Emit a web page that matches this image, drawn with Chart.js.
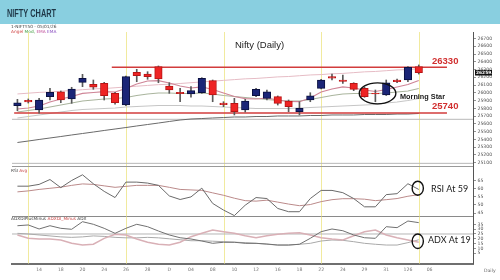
<!DOCTYPE html>
<html><head><meta charset="utf-8"><title>Nifty Chart</title>
<script src="https://cdn.jsdelivr.net/npm/chart.js@4.4.1/dist/chart.umd.min.js"></script>
<style>
html,body{margin:0;padding:0;background:#fff;}
#wrap{position:relative;width:500px;height:280px;overflow:hidden;background:#fff;}
#wrap canvas{position:absolute;left:0;top:0;}
</style></head>
<body><div id="wrap">
<canvas id="pricePane" width="500" height="280"></canvas>
<canvas id="rsiPane" width="500" height="280"></canvas>
<canvas id="adxPane" width="500" height="280"></canvas>
</div>
<script>
// ---------------- DATA ----------------
const dates = ['12 Nov','13 Nov','14 Nov','17 Nov','18 Nov','19 Nov','20 Nov','21 Nov','24 Nov','25 Nov','26 Nov','27 Nov','28 Nov','01 Dec','02 Dec','03 Dec','04 Dec','05 Dec','08 Dec','09 Dec','10 Dec','11 Dec','12 Dec','15 Dec','16 Dec','17 Dec','18 Dec','19 Dec','22 Dec','23 Dec','24 Dec','26 Dec','29 Dec','30 Dec','31 Dec','01 Jan','02 Jan','05 Jan'];
const open  = [25833,25903,25778,25950,26014,25920,26135,26110,26122,25993,25843,26264,26242,26337,26088,26006,25984,26001,26156,25868,25864,25778,25962,25929,25950,25894,25756,25907,26058,26208,26165,26122,26058,25993,25971,26165,26165,26337];
const high  = [25916,25920,25929,26058,26023,26071,26238,26165,26135,26006,26217,26303,26272,26346,26130,26058,26079,26195,26165,25885,25929,25916,26058,26036,25959,25907,25885,26001,26174,26242,26229,26130,26071,26036,26165,26178,26337,26359];
const low   = [25769,25868,25736,25907,25872,25864,26079,26045,25907,25852,25833,26143,26174,26130,25993,25885,25942,25993,25885,25821,25714,25752,25950,25907,25842,25756,25714,25885,26049,26165,26122,26027,25942,25885,25965,26130,26143,26242];
const close = [25872,25881,25907,26006,25907,26049,26187,26071,25962,25872,26208,26221,26208,26178,26036,25988,26027,26187,25972,25846,25756,25894,26045,26014,25864,25821,25800,25962,26165,26187,26148,26045,25950,25984,26130,26143,26329,26259];

const trendUpper = [25985,25995,26005,26010,26020,26030,26040,26050,26055,26065,26075,26085,26095,26105,26110,26120,26130,26140,26150,26160,26170,26180,26185,26195,26205,26210,26220,26230,26235,26245,26250,26260,26270,26275,26285,26295,26300,26310];
const emaFast = [25791,25804,25830,25881,25920,25952,25993,26004,26014,26010,26055,26113,26152,26156,26126,26088,26062,26075,26042,25997,25952,25926,25920,25933,25907,25888,25885,25933,26010,26049,26075,26062,26036,26017,26042,26075,26107,26159];
const emaMid  = [25752,25772,25791,25817,25843,25869,25894,25907,25920,25926,25939,25965,25984,25997,25997,25991,25991,25997,25984,25965,25952,25939,25926,25913,25901,25894,25894,25913,25939,25965,25984,25991,25991,25991,25997,26010,26023,26055];
const emaSlow = [25675,25694,25714,25733,25752,25772,25784,25791,25797,25804,25817,25823,25830,25836,25836,25836,25830,25830,25823,25817,25810,25804,25797,25797,25797,25797,25804,25810,25817,25823,25830,25836,25843,25849,25868,25881,25901,25926];
const emaLong = [25359,25378,25398,25417,25436,25456,25475,25494,25514,25533,25552,25572,25591,25610,25630,25649,25662,25668,25675,25681,25688,25688,25694,25694,25701,25701,25701,25707,25707,25714,25714,25714,25720,25720,25720,25726,25726,25733];

const levels     = [26330, 25740];      // marked resistance / support
const levelFrom  = [8.7, -0.3];         // candle index where each marked line starts
const levelTo    = [39.6, 39.6];
const grayLevels = [25658, 25090];

const rsi    = [61.5,61.5,62.6,65.6,60.6,65,68.5,63,58.3,54.5,64,64,63.4,62,55.5,53.3,54.9,60.3,50.9,46.8,43.4,49.8,54.5,53.9,47.8,45.8,45.8,53.9,58.9,58.9,57.5,53.9,48.8,48.8,56.3,56.9,63,59.5];
const rsiAvg = [58,58.6,59.5,60.2,60.9,62,62.9,62.6,61.7,60.8,61.4,62,62,62,60.8,59.5,59.2,58.9,57.4,55.9,54.1,52.6,52.3,52.9,51.7,50.5,49.5,50.2,52,53.2,53.8,53.8,53.5,52.6,53.2,53.9,55.3,56.3];

const diPlus  = [33.6,34.4,30.2,33.6,30.9,29.9,37.8,35.1,30.9,25.7,30.9,35.1,32.6,28.1,24,21.1,19.8,17.7,15.3,16.4,16.4,15.3,15.3,14.6,13.5,13.5,14.3,20.5,27.4,30.2,28.4,24,21.1,20.5,32.6,31.6,38.5,36.8];
const diMinus = [24,20.5,19.8,19.8,18.75,15.3,13.5,14.3,20.5,24.7,24,19.8,16.4,14.3,13.5,16.4,22.2,25.7,29.2,27.4,25.7,23.2,21.1,23.2,24.7,25.7,26.4,24,21.1,19.8,18.8,23.2,27.4,29.2,24,21.1,18.8,16.4];
const adx     = [25.7,25,24,23,22,21.5,22,23,22.5,21.5,21,21,21.5,21,20,19,18,18,17.5,17,16.5,16,15.3,14.3,13.5,13.5,14.3,15.3,17.7,18.75,18.4,17,15.3,14.3,13.5,13.5,16,19];
const adxRef  = 25;

const priceTicks = [26700,26600,26500,26400,26300,26200,26100,26000,25900,25800,25700,25600,25500,25400,25300,25200,25100];
const rsiTicks   = [65,60,55,50,45];
const adxTicks   = [35,30,25,20,15,10,5];
const xTickIdx    = [2,4,6,8,10,12,14,16,18,20,22,24,26,28,30,32,34,36,38];
const xTickLabels = ['14','18','20','24','26','28','D','04','08','10','12','16','18','22','24','29','31','126','06'];
const dividers = [1,10,19,28,37];
const morningStar = {i:33.2, v:25993};   // centre of the pattern callout

// ---------------- HELPERS ----------------
const idx = close.map((_, i) => i);
const isUp = idx.map(i => close[i] >= open[i]);
const X = {type:'linear', min:-0.5, max:42, offset:false, display:false};
const tickFont = {family:"'DejaVu Sans', sans-serif", size:4.6};

function yAxis(min, max, vals) {
  return {position:'right', min, max,
    afterFit: s => { s.width = 27; },
    afterBuildTicks: s => { s.ticks = vals.map(v => ({value:v})); },
    ticks:{font:tickFont, color:'#555', padding:1.5, autoSkip:false, callback: v => String(v)},
    grid:{drawOnChartArea:false, drawTicks:true, tickLength:3, color:'#777', lineWidth:0.8},
    border:{display:true, color:'#555', width:1}};
}
function series(vals, color, width, order) {
  return {type:'line', data: vals.map((v, i) => ({x:i, y:v})), borderColor:color, borderWidth:width,
          pointRadius:0, tension:0, fill:false, order: order || 3};
}
function drawDividers(ch) {
  const {ctx, chartArea:a, scales:{x}} = ch;
  ctx.save(); ctx.strokeStyle = '#f1ea9e'; ctx.lineWidth = 1;
  dividers.forEach(i => { const px = Math.round(x.getPixelForValue(i)) + 0.5;
    ctx.beginPath(); ctx.moveTo(px, a.top); ctx.lineTo(px, a.bottom); ctx.stroke(); });
  ctx.restore();
}
function segs(ctx, x, y, parts, font) {
  ctx.font = font; ctx.textAlign = 'left'; ctx.textBaseline = 'alphabetic';
  parts.forEach(([s, c]) => { ctx.fillStyle = c; ctx.fillText(s, x, y); x += ctx.measureText(s).width; });
}
function hline(ctx, a, y, color) {
  ctx.save(); ctx.strokeStyle = color; ctx.lineWidth = 1;
  ctx.beginPath(); ctx.moveTo(a.left, y); ctx.lineTo(a.right, y); ctx.stroke(); ctx.restore();
}
const base = {responsive:false, animation:false, devicePixelRatio:1, events:[],
  plugins:{legend:{display:false}, tooltip:{enabled:false}}};

// ---------------- PRICE PANE ----------------
const priceDatasets = [
  {type:'bar', data: idx.map(i => ({x:i, y:[open[i], close[i]]})),
   backgroundColor: isUp.map(u => u ? '#1b2577' : '#ee2424'),
   borderColor: isUp.map(u => u ? '#0b1040' : '#b81414'),
   borderWidth:1, borderSkipped:false, barThickness:7.5, grouped:false, order:0},
  {type:'bar', data: idx.map(i => ({x:i, y:[low[i], high[i]]})),
   backgroundColor:'#5a5a5a', borderWidth:0, barThickness:1, grouped:false, order:1},
  series(trendUpper, '#e6bcc5', 1, 5),
  series(emaFast, '#cf8597', 1.2, 3),
  series(emaMid, '#aab59e', 1.1, 4),
  series(emaSlow, '#c6c6c6', 1.1, 4),
  series(emaLong, '#6a6a6a', 1, 4),
  ...grayLevels.map(v => ({type:'line', data:[{x:-0.5, y:v}, {x:42, y:v}], borderColor:'#b8b8b8', borderWidth:1, pointRadius:0, order:6})),
  ...levels.map((v, k) => ({type:'line', data:[{x:levelFrom[k], y:v}, {x:levelTo[k], y:v}], borderColor:'#d23c3c', borderWidth:1.6, pointRadius:0, order:2}))
];

const pricePlugin = {
  id:'pricePane',
  beforeDraw(ch) {
    const ctx = ch.ctx;
    ctx.save();
    ctx.fillStyle = '#89cfe0'; ctx.fillRect(0, 0, 500, 24);
    const title = 'NIFTY CHART';
    ctx.font = "bold 10px 'Liberation Sans Narrow','Liberation Sans',sans-serif";
    const w = ctx.measureText(title).width;
    ctx.translate(7, 16.8); ctx.scale(49 / w, 1);
    ctx.fillStyle = '#1e3646'; ctx.textBaseline = 'alphabetic'; ctx.fillText(title, 0, 0);
    ctx.restore();
    ctx.save();
    segs(ctx, 11, 28, [['1-NIFTY50 - 05/01/26', '#444']], "4.3px 'DejaVu Sans'");
    segs(ctx, 11, 33, [['Angel', '#d04545'], [' Mod, ', '#3f9a3f'], ['EMA', '#c0509a'], [' EMA', '#8a4fc0']], "4.3px 'DejaVu Sans'");
    ctx.restore();
  },
  beforeDatasetsDraw(ch) { drawDividers(ch); },
  afterDatasetsDraw(ch) {
    const {ctx, chartArea:a, scales:{x, y}} = ch;
    hline(ctx, a, Math.round(a.bottom) - 0.5, '#9a9a9a');
    ctx.save();
    ctx.textBaseline = 'alphabetic'; ctx.textAlign = 'left';
    ctx.font = "9.5px 'Liberation Sans', Arial, sans-serif"; ctx.fillStyle = '#222';
    ctx.fillText('Nifty (Daily)', 235, 47.5);
    ctx.font = "bold 9.5px 'Liberation Sans', Arial, sans-serif"; ctx.fillStyle = '#d12f2f';
    ctx.fillText(String(levels[0]), 432, y.getPixelForValue(levels[0]) - 3);
    ctx.fillText(String(levels[1]), 432, y.getPixelForValue(levels[1]) - 3.5);
    ctx.font = "bold 7.3px 'Liberation Sans', Arial, sans-serif"; ctx.fillStyle = '#1a1a1a';
    ctx.fillText('Morning Star', 400, 99);
    const cx = x.getPixelForValue(morningStar.i), cy = y.getPixelForValue(morningStar.v);
    ctx.strokeStyle = '#111'; ctx.lineWidth = 1.4;
    ctx.beginPath(); ctx.ellipse(cx, cy, 18.3, 10.5, 0, 0, Math.PI * 2); ctx.stroke();
    ctx.restore();
  },
  afterDraw(ch) {
    const {ctx, scales:{y}} = ch;
    const last = close[close.length - 1];
    const py = y.getPixelForValue(last);
    ctx.save();
    ctx.fillStyle = '#111'; ctx.fillRect(y.left + 2, py - 2.8, 17, 5.6);
    ctx.fillStyle = '#fff'; ctx.font = "bold 4.4px 'DejaVu Sans'"; ctx.textBaseline = 'middle'; ctx.textAlign = 'left';
    ctx.fillText(String(last) + '.45', y.left + 3, py + 0.2);
    ctx.restore();
  }
};

new Chart(document.getElementById('pricePane'), {
  type:'bar',
  data:{datasets: priceDatasets},
  options:Object.assign({}, base, {
    layout:{padding:{top:32, bottom:113, left:12, right:0}},
    scales:{x:X, y:yAxis(25043, 26784, priceTicks)}
  }),
  plugins:[pricePlugin]
});

// ---------------- RSI PANE ----------------
const rsiPlugin = {
  id:'rsiPane',
  beforeDatasetsDraw(ch) { drawDividers(ch); },
  afterDatasetsDraw(ch) {
    const {ctx, chartArea:a, scales:{x, y}} = ch;
    hline(ctx, a, Math.round(a.bottom) - 0.5, '#8a8a8a');
    ctx.save();
    segs(ctx, 11, 172, [['RSI', '#444'], [' Avg', '#c84848']], "4.3px 'DejaVu Sans'");
    const li = rsi.length - 1;
    ctx.strokeStyle = '#111'; ctx.lineWidth = 1.4;
    ctx.beginPath(); ctx.ellipse(x.getPixelForValue(li) - 1, y.getPixelForValue(rsi[li]) - 1.2, 5.6, 7, 0, 0, Math.PI * 2); ctx.stroke();
    ctx.font = "9px Lato, 'Liberation Sans', sans-serif"; ctx.fillStyle = '#1a1a1a'; ctx.textBaseline = 'alphabetic';
    ctx.fillText('RSI At ' + Math.floor(rsi[li]), 431, 192);
    ctx.restore();
  }
};
new Chart(document.getElementById('rsiPane'), {
  type:'line',
  data:{datasets:[series(rsi, '#6a6a6a', 1, 1), series(rsiAvg, '#bb8a8a', 1, 2)]},
  options:Object.assign({}, base, {
    layout:{padding:{top:167, bottom:63.5, left:12, right:0}},
    scales:{x:X, y:yAxis(42.85, 73.3, rsiTicks)}
  }),
  plugins:[rsiPlugin]
});

// ---------------- ADX PANE ----------------
const adxPlugin = {
  id:'adxPane',
  beforeDatasetsDraw(ch) { drawDividers(ch); },
  afterDatasetsDraw(ch) {
    const {ctx, scales:{x, y}} = ch;
    ctx.save();
    segs(ctx, 11, 220, [['ADXDIPlusMinus', '#444'], [' ADXDI_Minus', '#c84848'], [' ADX', '#444']], "4.3px 'DejaVu Sans'");
    const li = adx.length - 1;
    ctx.strokeStyle = '#111'; ctx.lineWidth = 1.4;
    ctx.beginPath(); ctx.ellipse(x.getPixelForValue(li) - 1, y.getPixelForValue(adx[li]) + 1.5, 5.6, 7.2, 0, 0, Math.PI * 2); ctx.stroke();
    ctx.font = "9px Lato, 'Liberation Sans', sans-serif"; ctx.fillStyle = '#1a1a1a'; ctx.textBaseline = 'alphabetic';
    ctx.fillText('ADX At ' + Math.round(adx[li]), 428, 242.5);
    ctx.font = "4.6px 'DejaVu Sans'"; ctx.fillStyle = '#666';
    ctx.fillText('Daily', 484, 272);
    ctx.restore();
  }
};
new Chart(document.getElementById('adxPane'), {
  type:'line',
  data:{datasets:[
    series(diPlus, '#707070', 1, 1),
    series(diMinus, '#d9b0b6', 1.5, 2),
    series(adx, '#a9a9a9', 1, 3),
    {type:'line', data:[{x:-0.5, y:adxRef}, {x:42, y:adxRef}], borderColor:'#b5b5b5', borderWidth:1, pointRadius:0, order:4}
  ]},
  options:Object.assign({}, base, {
    layout:{padding:{top:216.5, bottom:0, left:12, right:0}},
    scales:{
      x:{type:'linear', min:-0.5, max:42, offset:false, position:'bottom',
         afterFit: s => { s.height = 16.5; },
         afterBuildTicks: s => { s.ticks = xTickIdx.map(v => ({value:v})); },
         ticks:{font:tickFont, color:'#777', padding:4, autoSkip:false, maxRotation:0,
                callback:(v, i) => xTickLabels[i]},
         grid:{display:false, drawTicks:false},
         border:{display:true, color:'#6f6f6f', width:2}},
      y:yAxis(-5.7, 43.2, adxTicks)
    }
  }),
  plugins:[adxPlugin]
});
</script>
</body></html>
